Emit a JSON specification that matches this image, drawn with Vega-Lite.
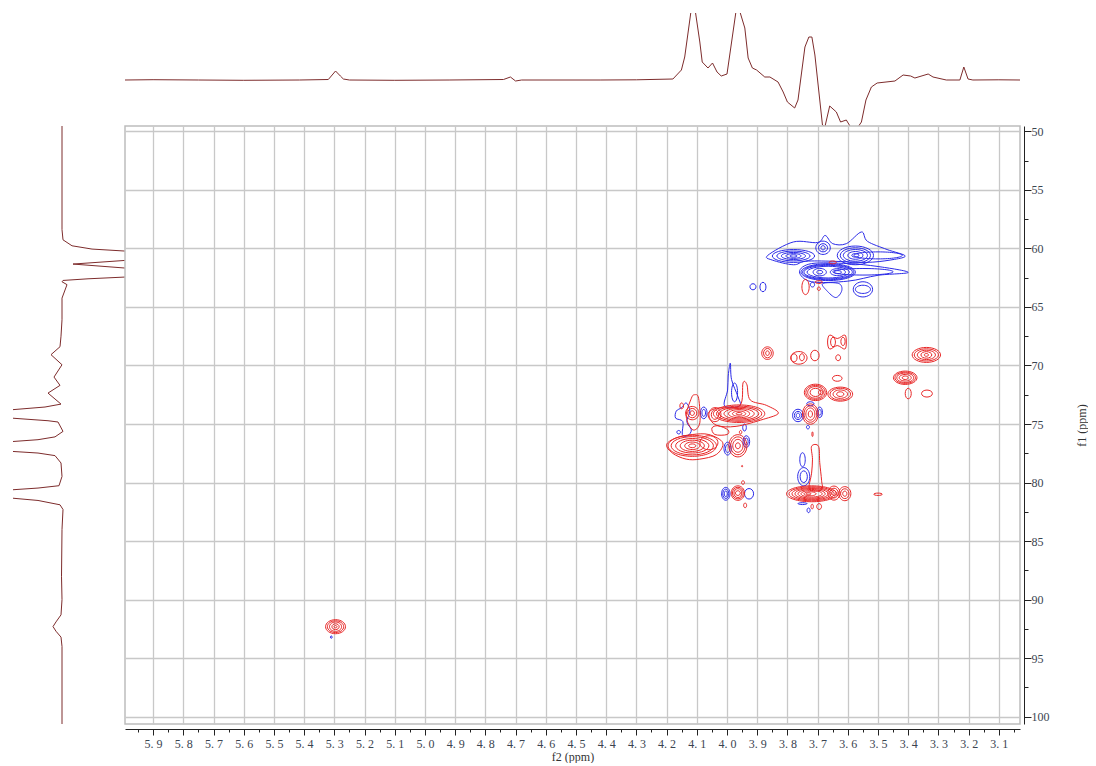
{"$schema":"https://vega.github.io/schema/vega-lite/v6.json","background":"white","padding":{"left":13,"top":13,"right":0,"bottom":0},"columns":2,"spacing":0,"bounds":"flush","config":{"view":{"stroke":null}},
"datasets":{
"top":[{"x":5.993,"v":0},{"x":5.9,"v":0.3},{"x":5.75,"v":0},{"x":5.6,"v":-0.3},{"x":5.415,"v":0},{"x":5.32,"v":0.5},{"x":5.31,"v":4},{"x":5.296,"v":9},{"x":5.28,"v":4},{"x":5.27,"v":1},{"x":5.25,"v":0},{"x":5.1,"v":-0.3},{"x":4.92,"v":0},{"x":4.74,"v":0.5},{"x":4.717,"v":3},{"x":4.7,"v":-1},{"x":4.68,"v":0},{"x":4.42,"v":0},{"x":4.3,"v":0.2},{"x":4.179,"v":1},{"x":4.151,"v":10},{"x":4.14,"v":23},{"x":4.12,"v":67},{"x":4.113,"v":85},{"x":4.104,"v":67},{"x":4.09,"v":38},{"x":4.082,"v":18},{"x":4.063,"v":12},{"x":4.048,"v":17},{"x":4.033,"v":8},{"x":4.019,"v":4},{"x":4.0,"v":6},{"x":3.971,"v":67},{"x":3.964,"v":85},{"x":3.956,"v":67},{"x":3.941,"v":52},{"x":3.93,"v":22},{"x":3.916,"v":12},{"x":3.902,"v":10},{"x":3.875,"v":3},{"x":3.858,"v":3},{"x":3.831,"v":-2},{"x":3.814,"v":-12},{"x":3.8,"v":-22},{"x":3.776,"v":-28},{"x":3.765,"v":-20},{"x":3.742,"v":33},{"x":3.729,"v":43},{"x":3.719,"v":43},{"x":3.709,"v":25},{"x":3.684,"v":-45},{"x":3.676,"v":-47},{"x":3.66,"v":-26},{"x":3.638,"v":-32},{"x":3.624,"v":-42},{"x":3.605,"v":-40},{"x":3.591,"v":-47},{"x":3.577,"v":-50},{"x":3.564,"v":-46},{"x":3.555,"v":-42},{"x":3.54,"v":-20},{"x":3.522,"v":-7},{"x":3.503,"v":-3},{"x":3.444,"v":-1},{"x":3.417,"v":5},{"x":3.392,"v":4},{"x":3.378,"v":2},{"x":3.334,"v":6},{"x":3.318,"v":3},{"x":3.274,"v":0},{"x":3.229,"v":0},{"x":3.216,"v":13},{"x":3.202,"v":1},{"x":3.186,"v":0},{"x":3.1,"v":0.2},{"x":3.03,"v":0}],
"left":[{"y":49.55,"v":0},{"y":58.4,"v":0},{"y":59.27,"v":-1},{"y":59.78,"v":-10},{"y":60.06,"v":-30},{"y":60.23,"v":-63},{"y":60.65,"v":-110},{"y":61.03,"v":-63},{"y":61.34,"v":-11},{"y":61.68,"v":-63},{"y":62.1,"v":-110},{"y":62.45,"v":-63},{"y":62.6,"v":-26},{"y":62.74,"v":-1},{"y":62.85,"v":0},{"y":63.1,"v":-5},{"y":64.25,"v":0},{"y":66.1,"v":0},{"y":67.5,"v":1},{"y":68.4,"v":2},{"y":69.08,"v":11},{"y":69.94,"v":0},{"y":70.99,"v":8},{"y":71.7,"v":2},{"y":72.36,"v":14},{"y":73.3,"v":1},{"y":73.55,"v":17},{"y":73.78,"v":50},{"y":74.1,"v":90},{"y":74.5,"v":50},{"y":74.72,"v":14},{"y":74.83,"v":4},{"y":75.63,"v":-1},{"y":76.1,"v":7},{"y":76.34,"v":24},{"y":76.5,"v":50},{"y":76.9,"v":90},{"y":77.34,"v":50},{"y":77.48,"v":24},{"y":77.7,"v":7},{"y":78.33,"v":1},{"y":79.48,"v":0},{"y":80.27,"v":3},{"y":80.47,"v":24},{"y":80.62,"v":50},{"y":80.95,"v":90},{"y":81.33,"v":50},{"y":81.53,"v":24},{"y":81.9,"v":2},{"y":82.3,"v":-1},{"y":84,"v":0},{"y":88,"v":0.5},{"y":90,"v":0},{"y":91.3,"v":1},{"y":91.9,"v":6},{"y":92.3,"v":9},{"y":92.7,"v":6},{"y":93.2,"v":1},{"y":94,"v":0},{"y":100.62,"v":0}],
"bf":[
{"c":1,"x":3.865,"y":60.6},{"c":1,"x":3.78,"y":59.45},{"c":1,"x":3.7,"y":59.5},{"c":1,"x":3.675,"y":58.9},{"c":1,"x":3.65,"y":59.6},{"c":1,"x":3.605,"y":59.6},{"c":1,"x":3.555,"y":58.6},{"c":1,"x":3.535,"y":59.4},{"c":1,"x":3.47,"y":60.1},{"c":1,"x":3.41,"y":60.65},{"c":1,"x":3.46,"y":61.0},{"c":1,"x":3.54,"y":61.2},{"c":1,"x":3.65,"y":61.1},{"c":1,"x":3.74,"y":61.1},{"c":1,"x":3.78,"y":61.4},{"c":1,"x":3.85,"y":61.0},
{"c":2,"x":3.76,"y":62.0},{"c":2,"x":3.72,"y":61.3},{"c":2,"x":3.6,"y":61.3},{"c":2,"x":3.5,"y":61.55},{"c":2,"x":3.4,"y":62.05},{"c":2,"x":3.5,"y":62.3},{"c":2,"x":3.6,"y":62.8},{"c":2,"x":3.72,"y":62.85},
{"c":3,"x":3.683,"y":63.0},{"c":3,"x":3.63,"y":63.0},{"c":3,"x":3.62,"y":63.6},{"c":3,"x":3.64,"y":64.2},{"c":3,"x":3.67,"y":63.6},
{"c":4,"x":4.008,"y":73.45},{"c":4,"x":3.998,"y":72.1},{"c":4,"x":3.996,"y":70.9},{"c":4,"x":3.989,"y":69.8},{"c":4,"x":3.985,"y":71.2},{"c":4,"x":3.964,"y":72.65},{"c":4,"x":3.958,"y":73.45},
{"c":5,"x":4.135,"y":73.2},{"c":5,"x":4.123,"y":73.9},{"c":5,"x":4.133,"y":74.8},{"c":5,"x":4.118,"y":75.5},{"c":5,"x":4.13,"y":76.0},{"c":5,"x":4.148,"y":75.9},{"c":5,"x":4.146,"y":74.8},{"c":5,"x":4.17,"y":74.5},{"c":5,"x":4.168,"y":73.9},{"c":5,"x":4.15,"y":73.6}],
"rf":[
{"c":1,"x":3.72,"y":76.9},{"c":1,"x":3.697,"y":76.9},{"c":1,"x":3.693,"y":78.3},{"c":1,"x":3.687,"y":79.8},{"c":1,"x":3.687,"y":80.6},{"c":1,"x":3.727,"y":80.6},{"c":1,"x":3.72,"y":79.2},{"c":1,"x":3.717,"y":78.0},
{"c":2,"x":4.118,"y":72.8},{"c":2,"x":4.107,"y":72.5},{"c":2,"x":4.094,"y":72.8},{"c":2,"x":4.09,"y":74.9},{"c":2,"x":4.113,"y":75.5},{"c":2,"x":4.135,"y":74.35},
{"c":3,"x":4.2,"y":76.77},{"c":3,"x":4.17,"y":76.2},{"c":3,"x":4.115,"y":75.9},{"c":3,"x":4.06,"y":75.9},{"c":3,"x":4.014,"y":76.6},{"c":3,"x":4.035,"y":77.6},{"c":3,"x":4.09,"y":78.0},{"c":3,"x":4.135,"y":78.0},{"c":3,"x":4.18,"y":77.5},
{"c":4,"x":4.063,"y":74.2},{"c":4,"x":4.035,"y":73.65},{"c":4,"x":3.958,"y":73.45},{"c":4,"x":3.947,"y":71.5},{"c":4,"x":3.934,"y":71.65},{"c":4,"x":3.923,"y":72.95},{"c":4,"x":3.87,"y":73.4},{"c":4,"x":3.83,"y":74.07},{"c":4,"x":3.88,"y":74.6},{"c":4,"x":3.97,"y":75.2},{"c":4,"x":4.035,"y":75.1},
{"c":5,"x":3.66,"y":67.4},{"c":5,"x":3.635,"y":67.7},{"c":5,"x":3.61,"y":67.4},{"c":5,"x":3.605,"y":68.0},{"c":5,"x":3.61,"y":68.6},{"c":5,"x":3.635,"y":68.3},{"c":5,"x":3.66,"y":68.6},{"c":5,"x":3.667,"y":68.0},
{"c":6,"x":4.05,"y":75.35},{"c":6,"x":4.03,"y":75.15},{"c":6,"x":3.997,"y":75.5},{"c":6,"x":4.0,"y":75.9},{"c":6,"x":4.04,"y":75.9}],
"be":[
{"c":1,"x":3.85,"y":60.65},{"c":1,"x":3.78,"y":60.1},{"c":1,"x":3.71,"y":60.65},{"c":1,"x":3.78,"y":61.2},
{"c":2,"x":3.835,"y":60.65},{"c":2,"x":3.78,"y":60.23},{"c":2,"x":3.725,"y":60.65},{"c":2,"x":3.78,"y":61.07},
{"c":3,"x":3.82,"y":60.65},{"c":3,"x":3.78,"y":60.35},{"c":3,"x":3.74,"y":60.65},{"c":3,"x":3.78,"y":60.95},
{"c":4,"x":3.805,"y":60.65},{"c":4,"x":3.78,"y":60.45},{"c":4,"x":3.755,"y":60.65},{"c":4,"x":3.78,"y":60.85},
{"c":5,"x":3.792,"y":60.65},{"c":5,"x":3.78,"y":60.55},{"c":5,"x":3.768,"y":60.65},{"c":5,"x":3.78,"y":60.75},
{"c":6,"x":3.635,"y":60.6},{"c":6,"x":3.575,"y":59.8},{"c":6,"x":3.515,"y":60.6},{"c":6,"x":3.575,"y":61.4},
{"c":7,"x":3.625,"y":60.6},{"c":7,"x":3.575,"y":59.95},{"c":7,"x":3.525,"y":60.6},{"c":7,"x":3.575,"y":61.25},
{"c":8,"x":3.615,"y":60.6},{"c":8,"x":3.575,"y":60.1},{"c":8,"x":3.535,"y":60.6},{"c":8,"x":3.575,"y":61.1},
{"c":9,"x":3.6,"y":60.6},{"c":9,"x":3.575,"y":60.27},{"c":9,"x":3.55,"y":60.6},{"c":9,"x":3.575,"y":60.93},
{"c":10,"x":3.587,"y":60.6},{"c":10,"x":3.575,"y":60.45},{"c":10,"x":3.563,"y":60.6},{"c":10,"x":3.575,"y":60.75},
{"c":11,"x":3.658,"y":59.95},{"c":11,"x":3.682,"y":59.38},{"c":11,"x":3.706,"y":59.95},{"c":11,"x":3.682,"y":60.52},
{"c":12,"x":3.667,"y":59.95},{"c":12,"x":3.682,"y":59.6},{"c":12,"x":3.697,"y":59.95},{"c":12,"x":3.682,"y":60.3},
{"c":13,"x":3.675,"y":59.95},{"c":13,"x":3.682,"y":59.77},{"c":13,"x":3.689,"y":59.95},{"c":13,"x":3.682,"y":60.13},
{"c":14,"x":3.575,"y":62.03},{"c":14,"x":3.665,"y":61.31},{"c":14,"x":3.755,"y":62.03},{"c":14,"x":3.665,"y":62.75},
{"c":15,"x":3.58,"y":62.03},{"c":15,"x":3.665,"y":61.38},{"c":15,"x":3.75,"y":62.03},{"c":15,"x":3.665,"y":62.68},
{"c":16,"x":3.585,"y":62.03},{"c":16,"x":3.665,"y":61.45},{"c":16,"x":3.745,"y":62.03},{"c":16,"x":3.665,"y":62.61},
{"c":17,"x":3.595,"y":62.03},{"c":17,"x":3.665,"y":61.53},{"c":17,"x":3.735,"y":62.03},{"c":17,"x":3.665,"y":62.53},
{"c":18,"x":3.671,"y":62.03},{"c":18,"x":3.693,"y":61.71},{"c":18,"x":3.715,"y":62.03},{"c":18,"x":3.693,"y":62.35},
{"c":19,"x":3.683,"y":62.03},{"c":19,"x":3.693,"y":61.88},{"c":19,"x":3.703,"y":62.03},{"c":19,"x":3.693,"y":62.18},
{"c":20,"x":3.608,"y":62.03},{"c":20,"x":3.633,"y":61.73},{"c":20,"x":3.658,"y":62.03},{"c":20,"x":3.633,"y":62.33},
{"c":21,"x":3.621,"y":62.03},{"c":21,"x":3.633,"y":61.9},{"c":21,"x":3.645,"y":62.03},{"c":21,"x":3.633,"y":62.16},
{"c":22,"x":3.45,"y":62.0},{"c":22,"x":3.55,"y":61.72},{"c":22,"x":3.65,"y":62.0},{"c":22,"x":3.55,"y":62.28},
{"c":23,"x":3.42,"y":60.6},{"c":23,"x":3.5,"y":60.3},{"c":23,"x":3.58,"y":60.6},{"c":23,"x":3.5,"y":60.9},
{"c":24,"x":3.904,"y":63.28},{"c":24,"x":3.914,"y":63.02},{"c":24,"x":3.924,"y":63.28},{"c":24,"x":3.914,"y":63.54},
{"c":25,"x":3.871,"y":63.3},{"c":25,"x":3.881,"y":62.9},{"c":25,"x":3.891,"y":63.3},{"c":25,"x":3.881,"y":63.7},
{"c":26,"x":3.71,"y":63.1},{"c":26,"x":3.717,"y":62.9},{"c":26,"x":3.724,"y":63.1},{"c":26,"x":3.717,"y":63.3},
{"c":27,"x":3.518,"y":63.5},{"c":27,"x":3.55,"y":62.85},{"c":27,"x":3.582,"y":63.5},{"c":27,"x":3.55,"y":64.15},
{"c":28,"x":3.525,"y":63.5},{"c":28,"x":3.55,"y":63.15},{"c":28,"x":3.575,"y":63.5},{"c":28,"x":3.55,"y":63.85},
{"c":29,"x":3.747,"y":74.27},{"c":29,"x":3.765,"y":73.74},{"c":29,"x":3.783,"y":74.27},{"c":29,"x":3.765,"y":74.8},
{"c":30,"x":3.753,"y":74.27},{"c":30,"x":3.765,"y":73.92},{"c":30,"x":3.777,"y":74.27},{"c":30,"x":3.765,"y":74.62},
{"c":31,"x":3.759,"y":74.27},{"c":31,"x":3.765,"y":74.07},{"c":31,"x":3.771,"y":74.27},{"c":31,"x":3.765,"y":74.47},
{"c":32,"x":3.684,"y":74.0},{"c":32,"x":3.693,"y":73.55},{"c":32,"x":3.702,"y":74.0},{"c":32,"x":3.693,"y":74.45},
{"c":33,"x":3.688,"y":74.0},{"c":33,"x":3.693,"y":73.75},{"c":33,"x":3.698,"y":74.0},{"c":33,"x":3.693,"y":74.25},
{"c":34,"x":3.712,"y":73.27},{"c":34,"x":3.724,"y":73.1},{"c":34,"x":3.736,"y":73.27},{"c":34,"x":3.724,"y":73.44},
{"c":35,"x":3.727,"y":75.27},{"c":35,"x":3.732,"y":75.12},{"c":35,"x":3.737,"y":75.27},{"c":35,"x":3.732,"y":75.42},
{"c":36,"x":3.741,"y":78.05},{"c":36,"x":3.75,"y":77.45},{"c":36,"x":3.759,"y":78.05},{"c":36,"x":3.75,"y":78.65},
{"c":37,"x":3.726,"y":79.5},{"c":37,"x":3.746,"y":78.72},{"c":37,"x":3.766,"y":79.5},{"c":37,"x":3.746,"y":80.28},
{"c":38,"x":3.734,"y":79.5},{"c":38,"x":3.746,"y":79.0},{"c":38,"x":3.758,"y":79.5},{"c":38,"x":3.746,"y":80.0},
{"c":39,"x":3.725,"y":82.37},{"c":39,"x":3.73,"y":82.17},{"c":39,"x":3.735,"y":82.37},{"c":39,"x":3.73,"y":82.57},
{"c":40,"x":3.735,"y":81.8},{"c":40,"x":3.75,"y":81.72},{"c":40,"x":3.765,"y":81.8},{"c":40,"x":3.75,"y":81.88},
{"c":41,"x":3.99,"y":80.96},{"c":41,"x":4.004,"y":80.41},{"c":41,"x":4.018,"y":80.96},{"c":41,"x":4.004,"y":81.51},
{"c":42,"x":3.994,"y":80.96},{"c":42,"x":4.004,"y":80.56},{"c":42,"x":4.014,"y":80.96},{"c":42,"x":4.004,"y":81.36},
{"c":43,"x":3.999,"y":80.96},{"c":43,"x":4.004,"y":80.71},{"c":43,"x":4.009,"y":80.96},{"c":43,"x":4.004,"y":81.21},
{"c":44,"x":3.912,"y":80.96},{"c":44,"x":3.927,"y":80.51},{"c":44,"x":3.942,"y":80.96},{"c":44,"x":3.927,"y":81.41},
{"c":45,"x":4.066,"y":74.05},{"c":45,"x":4.077,"y":73.55},{"c":45,"x":4.088,"y":74.05},{"c":45,"x":4.077,"y":74.55},
{"c":46,"x":4.071,"y":74.05},{"c":46,"x":4.077,"y":73.75},{"c":46,"x":4.083,"y":74.05},{"c":46,"x":4.077,"y":74.35},
{"c":47,"x":4.154,"y":75.7},{"c":47,"x":4.16,"y":75.55},{"c":47,"x":4.166,"y":75.7},{"c":47,"x":4.16,"y":75.85},
{"c":48,"x":3.986,"y":77.1},{"c":48,"x":3.998,"y":76.55},{"c":48,"x":4.01,"y":77.1},{"c":48,"x":3.998,"y":77.65},
{"c":49,"x":3.991,"y":77.1},{"c":49,"x":3.998,"y":76.75},{"c":49,"x":4.005,"y":77.1},{"c":49,"x":3.998,"y":77.45},
{"c":50,"x":3.925,"y":76.5},{"c":50,"x":3.936,"y":76.0},{"c":50,"x":3.947,"y":76.5},{"c":50,"x":3.936,"y":77.0},
{"c":51,"x":3.93,"y":76.5},{"c":51,"x":3.936,"y":76.2},{"c":51,"x":3.942,"y":76.5},{"c":51,"x":3.936,"y":76.8},
{"c":52,"x":3.936,"y":75.3},{"c":52,"x":3.942,"y":75.0},{"c":52,"x":3.948,"y":75.3},{"c":52,"x":3.942,"y":75.6},
{"c":53,"x":3.965,"y":72.3},{"c":53,"x":3.975,"y":71.5},{"c":53,"x":3.985,"y":72.3},{"c":53,"x":3.975,"y":73.1},
{"c":54,"x":5.307,"y":93.2},{"c":54,"x":5.31,"y":93.1},{"c":54,"x":5.313,"y":93.2},{"c":54,"x":5.31,"y":93.3}],
"re":[
{"c":1,"x":5.263,"y":92.31},{"c":1,"x":5.296,"y":91.71},{"c":1,"x":5.329,"y":92.31},{"c":1,"x":5.296,"y":92.91},
{"c":2,"x":5.269,"y":92.31},{"c":2,"x":5.296,"y":91.81},{"c":2,"x":5.323,"y":92.31},{"c":2,"x":5.296,"y":92.81},
{"c":3,"x":5.276,"y":92.31},{"c":3,"x":5.296,"y":91.91},{"c":3,"x":5.316,"y":92.31},{"c":3,"x":5.296,"y":92.71},
{"c":4,"x":5.284,"y":92.31},{"c":4,"x":5.296,"y":92.06},{"c":4,"x":5.308,"y":92.31},{"c":4,"x":5.296,"y":92.56},
{"c":5,"x":5.291,"y":92.31},{"c":5,"x":5.296,"y":92.21},{"c":5,"x":5.301,"y":92.31},{"c":5,"x":5.296,"y":92.41},
{"c":6,"x":3.847,"y":68.95},{"c":6,"x":3.866,"y":68.41},{"c":6,"x":3.885,"y":68.95},{"c":6,"x":3.866,"y":69.49},
{"c":7,"x":3.853,"y":68.95},{"c":7,"x":3.866,"y":68.55},{"c":7,"x":3.879,"y":68.95},{"c":7,"x":3.866,"y":69.35},
{"c":8,"x":3.86,"y":68.95},{"c":8,"x":3.866,"y":68.75},{"c":8,"x":3.872,"y":68.95},{"c":8,"x":3.866,"y":69.15},
{"c":9,"x":3.735,"y":69.35},{"c":9,"x":3.762,"y":68.81},{"c":9,"x":3.789,"y":69.35},{"c":9,"x":3.762,"y":69.89},
{"c":10,"x":3.768,"y":69.35},{"c":10,"x":3.778,"y":69.0},{"c":10,"x":3.788,"y":69.35},{"c":10,"x":3.778,"y":69.7},
{"c":11,"x":3.744,"y":69.3},{"c":11,"x":3.752,"y":69.0},{"c":11,"x":3.76,"y":69.3},{"c":11,"x":3.752,"y":69.6},
{"c":12,"x":3.695,"y":69.15},{"c":12,"x":3.709,"y":68.7},{"c":12,"x":3.723,"y":69.15},{"c":12,"x":3.709,"y":69.6},
{"c":13,"x":3.624,"y":69.34},{"c":13,"x":3.632,"y":69.09},{"c":13,"x":3.64,"y":69.34},{"c":13,"x":3.632,"y":69.59},
{"c":14,"x":3.619,"y":71.1},{"c":14,"x":3.635,"y":70.85},{"c":14,"x":3.651,"y":71.1},{"c":14,"x":3.635,"y":71.35},
{"c":15,"x":3.641,"y":68.0},{"c":15,"x":3.649,"y":67.6},{"c":15,"x":3.657,"y":68.0},{"c":15,"x":3.649,"y":68.4},
{"c":16,"x":3.609,"y":67.95},{"c":16,"x":3.616,"y":67.6},{"c":16,"x":3.623,"y":67.95},{"c":16,"x":3.616,"y":68.3},
{"c":17,"x":3.728,"y":63.3},{"c":17,"x":3.74,"y":62.65},{"c":17,"x":3.752,"y":63.3},{"c":17,"x":3.74,"y":63.95},
{"c":18,"x":3.684,"y":62.88},{"c":18,"x":3.696,"y":62.76},{"c":18,"x":3.708,"y":62.88},{"c":18,"x":3.696,"y":63.0},
{"c":19,"x":3.691,"y":63.45},{"c":19,"x":3.696,"y":63.3},{"c":19,"x":3.701,"y":63.45},{"c":19,"x":3.696,"y":63.6},
{"c":20,"x":3.638,"y":61.2},{"c":20,"x":3.65,"y":61.08},{"c":20,"x":3.662,"y":61.2},{"c":20,"x":3.65,"y":61.32},
{"c":21,"x":3.371,"y":71.05},{"c":21,"x":3.41,"y":70.48},{"c":21,"x":3.449,"y":71.05},{"c":21,"x":3.41,"y":71.62},
{"c":22,"x":3.376,"y":71.05},{"c":22,"x":3.41,"y":70.57},{"c":22,"x":3.444,"y":71.05},{"c":22,"x":3.41,"y":71.53},
{"c":23,"x":3.382,"y":71.05},{"c":23,"x":3.41,"y":70.65},{"c":23,"x":3.438,"y":71.05},{"c":23,"x":3.41,"y":71.45},
{"c":24,"x":3.39,"y":71.05},{"c":24,"x":3.41,"y":70.77},{"c":24,"x":3.43,"y":71.05},{"c":24,"x":3.41,"y":71.33},
{"c":25,"x":3.4,"y":71.05},{"c":25,"x":3.41,"y":70.9},{"c":25,"x":3.42,"y":71.05},{"c":25,"x":3.41,"y":71.2},
{"c":26,"x":3.293,"y":69.1},{"c":26,"x":3.34,"y":68.46},{"c":26,"x":3.387,"y":69.1},{"c":26,"x":3.34,"y":69.74},
{"c":27,"x":3.3,"y":69.1},{"c":27,"x":3.34,"y":68.58},{"c":27,"x":3.38,"y":69.1},{"c":27,"x":3.34,"y":69.62},
{"c":28,"x":3.31,"y":69.1},{"c":28,"x":3.34,"y":68.7},{"c":28,"x":3.37,"y":69.1},{"c":28,"x":3.34,"y":69.5},
{"c":29,"x":3.322,"y":69.1},{"c":29,"x":3.34,"y":68.82},{"c":29,"x":3.358,"y":69.1},{"c":29,"x":3.34,"y":69.38},
{"c":30,"x":3.333,"y":69.1},{"c":30,"x":3.34,"y":68.98},{"c":30,"x":3.347,"y":69.1},{"c":30,"x":3.34,"y":69.22},
{"c":31,"x":3.39,"y":72.4},{"c":31,"x":3.4,"y":71.95},{"c":31,"x":3.41,"y":72.4},{"c":31,"x":3.4,"y":72.85},
{"c":32,"x":3.32,"y":72.4},{"c":32,"x":3.338,"y":72.1},{"c":32,"x":3.356,"y":72.4},{"c":32,"x":3.338,"y":72.7},
{"c":33,"x":3.67,"y":72.3},{"c":33,"x":3.707,"y":71.6},{"c":33,"x":3.744,"y":72.3},{"c":33,"x":3.707,"y":73.0},
{"c":34,"x":3.675,"y":72.3},{"c":34,"x":3.707,"y":71.7},{"c":34,"x":3.739,"y":72.3},{"c":34,"x":3.707,"y":72.9},
{"c":35,"x":3.681,"y":72.3},{"c":35,"x":3.707,"y":71.8},{"c":35,"x":3.733,"y":72.3},{"c":35,"x":3.707,"y":72.8},
{"c":36,"x":3.689,"y":72.3},{"c":36,"x":3.707,"y":71.95},{"c":36,"x":3.725,"y":72.3},{"c":36,"x":3.707,"y":72.65},
{"c":37,"x":3.683,"y":72.3},{"c":37,"x":3.69,"y":72.1},{"c":37,"x":3.697,"y":72.3},{"c":37,"x":3.69,"y":72.5},
{"c":38,"x":3.584,"y":72.45},{"c":38,"x":3.625,"y":71.85},{"c":38,"x":3.666,"y":72.45},{"c":38,"x":3.625,"y":73.05},
{"c":39,"x":3.591,"y":72.45},{"c":39,"x":3.625,"y":71.95},{"c":39,"x":3.659,"y":72.45},{"c":39,"x":3.625,"y":72.95},
{"c":40,"x":3.601,"y":72.45},{"c":40,"x":3.625,"y":72.09},{"c":40,"x":3.649,"y":72.45},{"c":40,"x":3.625,"y":72.81},
{"c":41,"x":3.613,"y":72.45},{"c":41,"x":3.625,"y":72.25},{"c":41,"x":3.637,"y":72.45},{"c":41,"x":3.625,"y":72.65},
{"c":42,"x":3.698,"y":74.15},{"c":42,"x":3.724,"y":73.28},{"c":42,"x":3.75,"y":74.15},{"c":42,"x":3.724,"y":75.02},
{"c":43,"x":3.703,"y":74.15},{"c":43,"x":3.724,"y":73.45},{"c":43,"x":3.745,"y":74.15},{"c":43,"x":3.724,"y":74.85},
{"c":44,"x":3.709,"y":74.15},{"c":44,"x":3.724,"y":73.63},{"c":44,"x":3.739,"y":74.15},{"c":44,"x":3.724,"y":74.67},
{"c":45,"x":3.717,"y":74.15},{"c":45,"x":3.724,"y":73.87},{"c":45,"x":3.731,"y":74.15},{"c":45,"x":3.724,"y":74.43},
{"c":46,"x":3.715,"y":75.87},{"c":46,"x":3.717,"y":75.67},{"c":46,"x":3.719,"y":75.87},{"c":46,"x":3.717,"y":76.07},
{"c":47,"x":3.637,"y":80.96},{"c":47,"x":3.72,"y":80.28},{"c":47,"x":3.803,"y":80.96},{"c":47,"x":3.72,"y":81.64},
{"c":48,"x":3.645,"y":80.96},{"c":48,"x":3.72,"y":80.36},{"c":48,"x":3.795,"y":80.96},{"c":48,"x":3.72,"y":81.56},
{"c":49,"x":3.655,"y":80.96},{"c":49,"x":3.72,"y":80.44},{"c":49,"x":3.785,"y":80.96},{"c":49,"x":3.72,"y":81.48},
{"c":50,"x":3.665,"y":80.96},{"c":50,"x":3.72,"y":80.51},{"c":50,"x":3.775,"y":80.96},{"c":50,"x":3.72,"y":81.41},
{"c":51,"x":3.675,"y":80.96},{"c":51,"x":3.72,"y":80.59},{"c":51,"x":3.765,"y":80.96},{"c":51,"x":3.72,"y":81.33},
{"c":52,"x":3.685,"y":80.96},{"c":52,"x":3.72,"y":80.68},{"c":52,"x":3.755,"y":80.96},{"c":52,"x":3.72,"y":81.24},
{"c":53,"x":3.705,"y":80.96},{"c":53,"x":3.725,"y":80.79},{"c":53,"x":3.745,"y":80.96},{"c":53,"x":3.725,"y":81.13},
{"c":54,"x":3.722,"y":80.96},{"c":54,"x":3.73,"y":80.88},{"c":54,"x":3.738,"y":80.96},{"c":54,"x":3.73,"y":81.04},
{"c":55,"x":3.626,"y":80.9},{"c":55,"x":3.646,"y":80.3},{"c":55,"x":3.666,"y":80.9},{"c":55,"x":3.646,"y":81.5},
{"c":56,"x":3.632,"y":80.9},{"c":56,"x":3.646,"y":80.48},{"c":56,"x":3.66,"y":80.9},{"c":56,"x":3.646,"y":81.32},
{"c":57,"x":3.639,"y":80.9},{"c":57,"x":3.646,"y":80.68},{"c":57,"x":3.653,"y":80.9},{"c":57,"x":3.646,"y":81.12},
{"c":58,"x":3.59,"y":80.95},{"c":58,"x":3.61,"y":80.35},{"c":58,"x":3.63,"y":80.95},{"c":58,"x":3.61,"y":81.55},
{"c":59,"x":3.596,"y":80.95},{"c":59,"x":3.61,"y":80.53},{"c":59,"x":3.624,"y":80.95},{"c":59,"x":3.61,"y":81.37},
{"c":60,"x":3.603,"y":80.95},{"c":60,"x":3.61,"y":80.73},{"c":60,"x":3.617,"y":80.95},{"c":60,"x":3.61,"y":81.17},
{"c":61,"x":3.486,"y":81.0},{"c":61,"x":3.5,"y":80.9},{"c":61,"x":3.514,"y":81.0},{"c":61,"x":3.5,"y":81.1},
{"c":62,"x":3.714,"y":82.05},{"c":62,"x":3.718,"y":81.85},{"c":62,"x":3.722,"y":82.05},{"c":62,"x":3.718,"y":82.25},
{"c":63,"x":3.687,"y":82.05},{"c":63,"x":3.695,"y":81.8},{"c":63,"x":3.703,"y":82.05},{"c":63,"x":3.695,"y":82.3},
{"c":64,"x":3.942,"y":80.9},{"c":64,"x":3.964,"y":80.28},{"c":64,"x":3.986,"y":80.9},{"c":64,"x":3.964,"y":81.52},
{"c":65,"x":3.946,"y":80.9},{"c":65,"x":3.964,"y":80.4},{"c":65,"x":3.982,"y":80.9},{"c":65,"x":3.964,"y":81.4},
{"c":66,"x":3.951,"y":80.9},{"c":66,"x":3.964,"y":80.52},{"c":66,"x":3.977,"y":80.9},{"c":66,"x":3.964,"y":81.28},
{"c":67,"x":3.956,"y":80.9},{"c":67,"x":3.964,"y":80.7},{"c":67,"x":3.972,"y":80.9},{"c":67,"x":3.964,"y":81.1},
{"c":68,"x":3.935,"y":81.95},{"c":68,"x":3.94,"y":81.75},{"c":68,"x":3.945,"y":81.95},{"c":68,"x":3.94,"y":82.15},
{"c":69,"x":3.942,"y":80.0},{"c":69,"x":3.947,"y":79.85},{"c":69,"x":3.952,"y":80.0},{"c":69,"x":3.947,"y":80.15},
{"c":70,"x":4.035,"y":76.86},{"c":70,"x":4.115,"y":75.96},{"c":70,"x":4.195,"y":76.86},{"c":70,"x":4.115,"y":77.76},
{"c":71,"x":4.045,"y":76.86},{"c":71,"x":4.115,"y":76.08},{"c":71,"x":4.185,"y":76.86},{"c":71,"x":4.115,"y":77.64},
{"c":72,"x":4.06,"y":76.86},{"c":72,"x":4.115,"y":76.24},{"c":72,"x":4.17,"y":76.86},{"c":72,"x":4.115,"y":77.48},
{"c":73,"x":4.075,"y":76.86},{"c":73,"x":4.115,"y":76.38},{"c":73,"x":4.155,"y":76.86},{"c":73,"x":4.115,"y":77.34},
{"c":74,"x":4.09,"y":76.86},{"c":74,"x":4.115,"y":76.54},{"c":74,"x":4.14,"y":76.86},{"c":74,"x":4.115,"y":77.18},
{"c":75,"x":4.103,"y":76.86},{"c":75,"x":4.115,"y":76.7},{"c":75,"x":4.127,"y":76.86},{"c":75,"x":4.115,"y":77.02},
{"c":76,"x":4.03,"y":76.6},{"c":76,"x":4.06,"y":76.0},{"c":76,"x":4.09,"y":76.6},{"c":76,"x":4.06,"y":77.2},
{"c":77,"x":4.093,"y":74.07},{"c":77,"x":4.115,"y":73.5},{"c":77,"x":4.137,"y":74.07},{"c":77,"x":4.115,"y":74.64},
{"c":78,"x":4.1,"y":74.07},{"c":78,"x":4.115,"y":73.67},{"c":78,"x":4.13,"y":74.07},{"c":78,"x":4.115,"y":74.47},
{"c":79,"x":4.108,"y":74.07},{"c":79,"x":4.115,"y":73.87},{"c":79,"x":4.122,"y":74.07},{"c":79,"x":4.115,"y":74.27},
{"c":80,"x":4.144,"y":73.45},{"c":80,"x":4.15,"y":73.2},{"c":80,"x":4.156,"y":73.45},{"c":80,"x":4.15,"y":73.7},
{"c":81,"x":3.875,"y":74.12},{"c":81,"x":3.96,"y":73.37},{"c":81,"x":4.045,"y":74.12},{"c":81,"x":3.96,"y":74.87},
{"c":82,"x":3.885,"y":74.12},{"c":82,"x":3.96,"y":73.47},{"c":82,"x":4.035,"y":74.12},{"c":82,"x":3.96,"y":74.77},
{"c":83,"x":3.895,"y":74.12},{"c":83,"x":3.96,"y":73.57},{"c":83,"x":4.025,"y":74.12},{"c":83,"x":3.96,"y":74.67},
{"c":84,"x":3.91,"y":74.12},{"c":84,"x":3.96,"y":73.67},{"c":84,"x":4.01,"y":74.12},{"c":84,"x":3.96,"y":74.57},
{"c":85,"x":3.925,"y":74.12},{"c":85,"x":3.96,"y":73.77},{"c":85,"x":3.995,"y":74.12},{"c":85,"x":3.96,"y":74.47},
{"c":86,"x":3.938,"y":74.12},{"c":86,"x":3.96,"y":73.9},{"c":86,"x":3.982,"y":74.12},{"c":86,"x":3.96,"y":74.34},
{"c":87,"x":3.95,"y":74.12},{"c":87,"x":3.96,"y":74.02},{"c":87,"x":3.97,"y":74.12},{"c":87,"x":3.96,"y":74.22},
{"c":88,"x":4.02,"y":74.2},{"c":88,"x":4.04,"y":73.6},{"c":88,"x":4.06,"y":74.2},{"c":88,"x":4.04,"y":74.8},
{"c":89,"x":4.028,"y":74.2},{"c":89,"x":4.04,"y":73.8},{"c":89,"x":4.052,"y":74.2},{"c":89,"x":4.04,"y":74.6},
{"c":90,"x":3.934,"y":76.86},{"c":90,"x":3.964,"y":75.91},{"c":90,"x":3.994,"y":76.86},{"c":90,"x":3.964,"y":77.81},
{"c":91,"x":3.94,"y":76.86},{"c":91,"x":3.964,"y":76.1},{"c":91,"x":3.988,"y":76.86},{"c":91,"x":3.964,"y":77.62},
{"c":92,"x":3.947,"y":76.86},{"c":92,"x":3.964,"y":76.31},{"c":92,"x":3.981,"y":76.86},{"c":92,"x":3.964,"y":77.41},
{"c":93,"x":3.956,"y":76.86},{"c":93,"x":3.964,"y":76.61},{"c":93,"x":3.972,"y":76.86},{"c":93,"x":3.964,"y":77.11},
{"c":94,"x":3.951,"y":75.7},{"c":94,"x":3.955,"y":75.55},{"c":94,"x":3.959,"y":75.7},{"c":94,"x":3.955,"y":75.85},
{"c":95,"x":3.948,"y":78.6},{"c":95,"x":3.95,"y":78.54},{"c":95,"x":3.952,"y":78.6},{"c":95,"x":3.95,"y":78.66}]},
"concat":[
{"width":112,"height":113,"data":{"values":[]},"mark":{"type":"rule"},"encoding":{}},
{"width":895,"height":113,"data":{"name":"top"},"mark":{"type":"line","stroke":"#7d2c2c","strokeWidth":1,"clip":true},"encoding":{"x":{"field":"x","type":"quantitative","scale":{"domain":[5.993,3.03],"nice":false,"zero":false},"axis":null},"y":{"field":"v","type":"quantitative","scale":{"domain":[-46,67],"nice":false,"zero":false},"axis":null}}},
{"width":112,"height":598,"data":{"name":"left"},"transform":[{"window":[{"op":"row_number","as":"i"}]}],"mark":{"type":"line","stroke":"#7d2c2c","strokeWidth":1,"clip":true},"encoding":{"y":{"field":"y","type":"quantitative","scale":{"domain":[49.55,100.62],"reverse":true,"nice":false,"zero":false},"axis":null},"x":{"field":"v","type":"quantitative","scale":{"domain":[49,-63],"nice":false,"zero":false},"axis":null},"order":{"field":"i","type":"quantitative"}}},
{"width":895,"height":598,"view":{"stroke":"#bdbdbd","strokeWidth":1.5},
"resolve":{"axis":{"x":"independent","y":"independent"}},
"layer":[
{"data":{"name":"bf"},"transform":[{"window":[{"op":"row_number","as":"i"}]}],"mark":{"type":"line","interpolate":"cardinal-closed","tension":0,"stroke":"#2a2ae8","strokeWidth":1,"clip":true},"encoding":{"x":{"field":"x","type":"quantitative","scale":{"domain":[5.993,3.03],"nice":false,"zero":false},"axis":{"orient":"bottom","offset":5,"values":[5.9,5.8,5.7,5.6,5.5,5.4,5.3,5.2,5.1,5.0,4.9,4.8,4.7,4.6,4.5,4.4,4.3,4.2,4.1,4.0,3.9,3.8,3.7,3.6,3.5,3.4,3.3,3.2,3.1],"labelExpr":"replace(format(datum.value,'.1f'),'.','. ')","title":"f2 (ppm)","titleFont":"Liberation Serif","titleFontWeight":"normal","titleFontSize":12,"titleColor":"#333","titlePadding":2,"labelFont":"Liberation Serif","labelFontSize":12,"labelColor":"#3a4450","labelPadding":3,"tickSize":6,"tickColor":"#222","domainColor":"#222","grid":true,"gridColor":"#c8c8c8","gridWidth":1.3,"labelFlush":false,"labelOverlap":false}},"y":{"field":"y","type":"quantitative","scale":{"domain":[49.55,100.62],"reverse":true,"nice":false,"zero":false},"axis":{"orient":"right","offset":4,"values":[50,55,60,65,70,75,80,85,90,95,100],"title":"f1 (ppm)","titleAngle":-90,"titleFont":"Liberation Serif","titleFontWeight":"normal","titleFontSize":12,"titleColor":"#333","titlePadding":39,"labelFont":"Liberation Serif","labelFontSize":12,"labelColor":"#3a4450","labelPadding":0,"tickSize":7,"tickColor":"#222","domainColor":"#222","grid":true,"gridColor":"#c8c8c8","gridWidth":1.3,"labelOverlap":false}},"detail":{"field":"c"},"order":{"field":"i","type":"quantitative"}}},
{"data":{"name":"be"},"transform":[{"window":[{"op":"row_number","as":"i"}]}],"mark":{"type":"line","interpolate":"cardinal-closed","tension":-0.65,"stroke":"#2a2ae8","strokeWidth":1,"clip":true},"encoding":{"x":{"field":"x","type":"quantitative","scale":{"domain":[5.993,3.03],"nice":false,"zero":false},"axis":{"orient":"bottom","offset":5,"values":[5.95,5.85,5.75,5.65,5.55,5.45,5.35,5.25,5.15,5.05,4.95,4.85,4.75,4.65,4.55,4.45,4.35,4.25,4.15,4.05,3.95,3.85,3.75,3.65,3.55,3.45,3.35,3.25,3.15,3.05],"labels":false,"title":null,"tickSize":3,"tickColor":"#222","domain":false,"grid":false}},"y":{"field":"y","type":"quantitative","scale":{"domain":[49.55,100.62],"reverse":true,"nice":false,"zero":false},"axis":{"orient":"right","offset":4,"values":[52.5,57.5,62.5,67.5,72.5,77.5,82.5,87.5,92.5,97.5],"labels":false,"title":null,"tickSize":4,"tickColor":"#222","domain":false,"grid":false}},"detail":{"field":"c"},"order":{"field":"i","type":"quantitative"}}},
{"data":{"name":"rf"},"transform":[{"window":[{"op":"row_number","as":"i"}]}],"mark":{"type":"line","interpolate":"cardinal-closed","tension":0,"stroke":"#e82626","strokeWidth":1,"clip":true},"encoding":{"x":{"field":"x","type":"quantitative","scale":{"domain":[5.993,3.03],"nice":false,"zero":false},"axis":null},"y":{"field":"y","type":"quantitative","scale":{"domain":[49.55,100.62],"reverse":true,"nice":false,"zero":false},"axis":null},"detail":{"field":"c"},"order":{"field":"i","type":"quantitative"}}},
{"data":{"name":"re"},"transform":[{"window":[{"op":"row_number","as":"i"}]}],"mark":{"type":"line","interpolate":"cardinal-closed","tension":-0.65,"stroke":"#e82626","strokeWidth":1,"clip":true},"encoding":{"x":{"field":"x","type":"quantitative","scale":{"domain":[5.993,3.03],"nice":false,"zero":false},"axis":null},"y":{"field":"y","type":"quantitative","scale":{"domain":[49.55,100.62],"reverse":true,"nice":false,"zero":false},"axis":null},"detail":{"field":"c"},"order":{"field":"i","type":"quantitative"}}}
]}
]}
